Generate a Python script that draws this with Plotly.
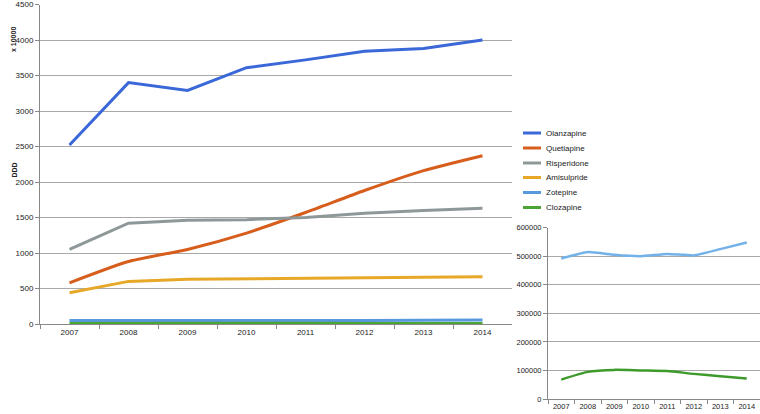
import plotly.graph_objects as go

years = ["2007", "2008", "2009", "2010", "2011", "2012", "2013", "2014"]

# Main chart values (DDD x 10000)
olanzapine = [2520, 3400, 3290, 3610, 3720, 3840, 3880, 4000]
quetiapine = [580, 880, 1050, 1280, 1570, 1880, 2160, 2370]
risperidone = [1050, 1420, 1460, 1470, 1500, 1560, 1600, 1630]
amisulpride = [440, 600, 630, 640, 645, 650, 660, 665]

# Inset values (DDD)
zotepine_ddd = [492000, 515000, 505000, 500000, 508000, 503000, 525000, 548000]
clozapine_ddd = [68000, 95000, 102000, 100000, 98000, 88000, 80000, 72000]

zotepine = [v / 10000 for v in zotepine_ddd]
clozapine = [v / 10000 for v in clozapine_ddd]

series_names = ["Olanzapine", "Quetiapine", "Risperidone", "Amisulpride", "Zotepine", "Clozapine"]
series_colors = ["#3a68d8", "#d75d1c", "#8e9898", "#e7a828", "#5898dc", "#4aa534"]

FONT = "Liberation Sans"
GRID = "#a9a9a9"
W, H = 760, 414

fig = go.Figure()

main_values = [olanzapine, quetiapine, risperidone, amisulpride, zotepine, clozapine]
shapes_kind = ["linear", "spline", "linear", "linear", "linear", "linear"]
for name, vals, color, shape in zip(series_names, main_values, series_colors, shapes_kind):
    fig.add_trace(go.Scatter(
        x=years, y=vals, name=name, mode="lines", showlegend=False,
        line=dict(color=color, width=3, shape=shape, smoothing=0.6),
        xaxis="x", yaxis="y",
    ))

fig.add_trace(go.Scatter(
    x=years, y=zotepine_ddd, name="Zotepine", mode="lines", showlegend=False,
    line=dict(color="#73b2e8", width=2.5, shape="spline", smoothing=0.4),
    xaxis="x2", yaxis="y2",
))
fig.add_trace(go.Scatter(
    x=years, y=clozapine_ddd, name="Clozapine", mode="lines", showlegend=False,
    line=dict(color="#3f9a2c", width=2.5, shape="spline", smoothing=0.5),
    xaxis="x2", yaxis="y2",
))

# Manual legend (compact spacing like the original)
legend_rows = [133, 148, 163, 177.5, 192.5, 207.5]
shapes = []
annotations = []
for name, color, ry in zip(series_names, series_colors, legend_rows):
    shapes.append(dict(type="line", xref="paper", yref="paper",
                       x0=523 / W, x1=541 / W, y0=1 - ry / H, y1=1 - ry / H,
                       line=dict(color=color, width=3)))
    annotations.append(dict(text=name, x=544 / W, y=1 - ry / H, xref="paper", yref="paper",
                            xanchor="left", yanchor="middle", showarrow=False,
                            font=dict(size=8, family=FONT, color="#222222")))

annotations += [
    dict(text="<b>x 10000</b>", x=8 / W, y=1 - 25 / H, xref="paper", yref="paper",
         textangle=-90, showarrow=False, font=dict(size=7, family=FONT, color="#222222")),
    dict(text="<b>DDD</b>", x=8 / W, y=1 - 170 / H, xref="paper", yref="paper",
         textangle=-90, showarrow=False, font=dict(size=7, family=FONT, color="#222222")),
]

fig.update_layout(
    width=W, height=H,
    margin=dict(l=0, r=0, t=0, b=0),
    paper_bgcolor="white", plot_bgcolor="white",
    font=dict(family=FONT, size=8, color="#222222"),
    showlegend=False,
    shapes=shapes,
    annotations=annotations,
    xaxis=dict(
        domain=[40 / W, 512 / W], anchor="y", type="category",
        range=[-0.5, 7.5], tickson="boundaries", ticks="outside",
        ticklen=4, tickcolor="#888888", showgrid=False,
        showline=True, linecolor="#888888", linewidth=1,
        tickfont=dict(size=8, family=FONT), automargin=False,
    ),
    yaxis=dict(
        domain=[(H - 324) / H, (H - 4.5) / H], anchor="x",
        range=[0, 4500], tickvals=list(range(0, 4501, 500)),
        ticks="outside", ticklen=4, tickcolor="#888888",
        showgrid=True, gridcolor=GRID, gridwidth=1,
        showline=True, linecolor="#888888", linewidth=1,
        zeroline=False, tickfont=dict(size=8, family=FONT), automargin=False,
    ),
    xaxis2=dict(
        domain=[548 / W, 1.0], anchor="y2", type="category",
        range=[-0.5, 7.5], tickson="boundaries", ticks="outside",
        ticklen=4, tickcolor="#888888", showgrid=False,
        showline=True, linecolor="#888888", linewidth=1,
        tickfont=dict(size=7.5, family=FONT), automargin=False,
    ),
    yaxis2=dict(
        domain=[(H - 399) / H, (H - 227.7) / H], anchor="x2",
        range=[0, 600000], tickvals=list(range(0, 600001, 100000)),
        ticks="outside", ticklen=4, tickcolor="#888888",
        showgrid=True, gridcolor=GRID, gridwidth=1,
        showline=True, linecolor="#888888", linewidth=1,
        zeroline=False, tickfont=dict(size=7.5, family=FONT),
        tickformat="d", automargin=False,
    ),
)

fig.write_html("out.html", config={"displayModeBar": False, "staticPlot": True})

# remove default page margin so the figure sits at the window's top-left corner
with open("out.html", "r", encoding="utf-8") as f:
    html = f.read()
html = html.replace("<head>", "<head><style>html,body{margin:0;padding:0;overflow:hidden;}</style>", 1)
with open("out.html", "w", encoding="utf-8") as f:
    f.write(html)
